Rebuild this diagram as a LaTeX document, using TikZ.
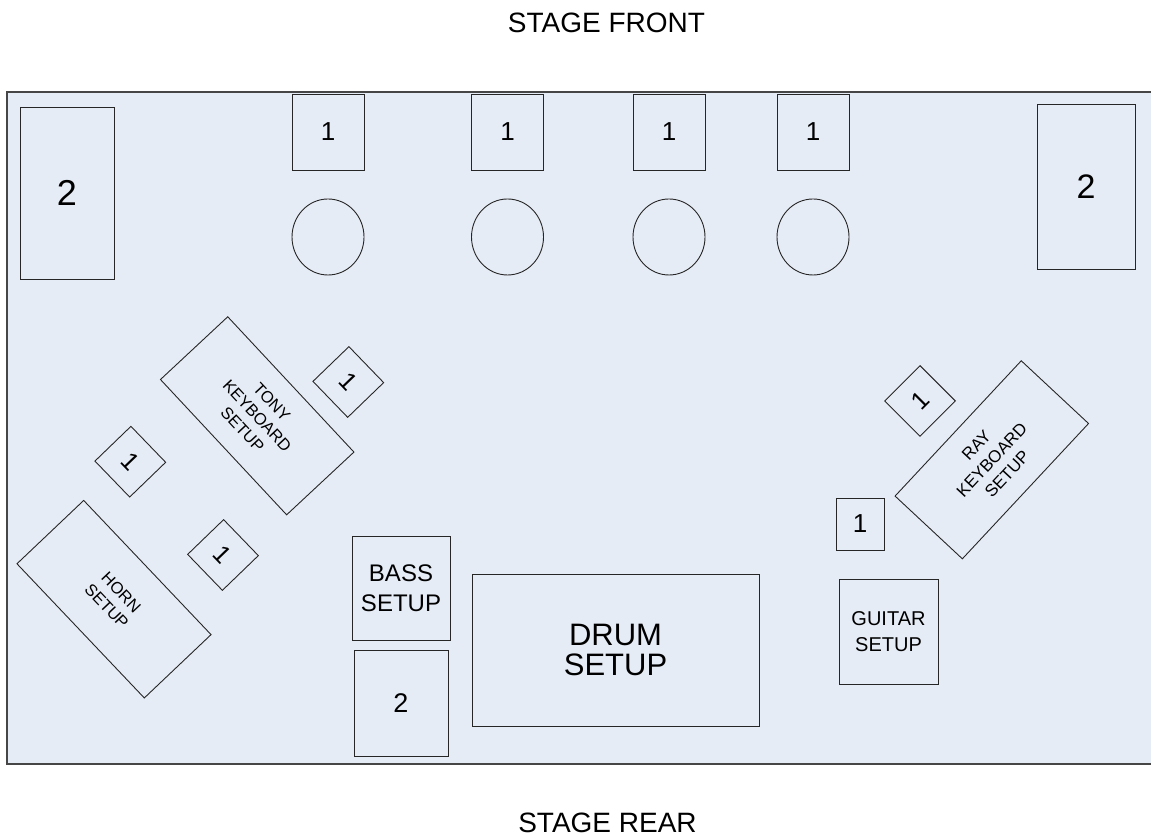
\documentclass[tikz,border=0pt]{standalone}
\usepackage{fontspec}
\setmainfont{Liberation Sans}
\usetikzlibrary{shapes.geometric}

\definecolor{stagefill}{RGB}{230,236,246}
\definecolor{stageline}{RGB}{70,70,70}

\begin{document}
\begin{tikzpicture}[x=1pt, y=1pt,
	gear/.style={draw=black!85, line width=0.9pt, fill=stagefill, inner sep=0pt, outer sep=0pt, align=center},
	wedge/.style={gear, minimum width=72, minimum height=76, font=\fontsize{26}{30}\selectfont},
	tilted/.style={gear, minimum width=50, minimum height=50, font=\fontsize{25}{30}\selectfont},
	keys/.style={gear, minimum width=185, minimum height=92, font=\fontsize{16.5}{20}\selectfont},
	mic/.style={gear, ellipse, minimum width=72, minimum height=76}
]

\useasboundingbox (0,0) rectangle (1151,840);

\fill[stagefill] (7,76) rectangle (1153,748);
\draw[stageline, line width=1.4pt] (1153,748) -- (7,748) -- (7,76) -- (1153,76);

\node[anchor=base, font=\fontsize{28}{34}\selectfont] (front) at (606.5,807.7) {STAGE FRONT};
\node[anchor=base, font=\fontsize{28}{34}\selectfont] (rear) at (607.5,7.3) {STAGE REAR};

% front line
\foreach \x [count=\i] in {328, 507.5, 669, 813}
{
	\node[wedge] (wedge\i) at (\x, 708) {1};
	\node[mic] (mic\i) at (\x, 603) {};
}

\node[gear, minimum width=94, minimum height=172, font=\fontsize{36}{40}\selectfont] (fillL) at (67,647) {2};
\node[gear, minimum width=98, minimum height=165, font=\fontsize{34}{40}\selectfont] (fillR) at (1086,653.5) {2};

% stage left
\node[keys, rotate=-47] (tony) at (257.2,424.2) {TONY\\KEYBOARD\\SETUP};
\node[tilted, rotate=-46] (tonymon) at (348.3,458) {1};
\node[tilted, rotate=-46] (midmon) at (130.3,378.3) {1};
\node[tilted, rotate=-46] (hornmon) at (223,285) {1};
\node[keys, rotate=-46.5] (horn) at (114,240.8) {HORN\\SETUP};

% stage right
\node[keys, rotate=47, font=\fontsize{17}{21}\selectfont] (ray) at (991.8,380.2) {RAY\\KEYBOARD\\SETUP};
\node[tilted, rotate=45] (raymon) at (920,439) {1};
\node[gear, minimum width=48, minimum height=52, font=\fontsize{26}{30}\selectfont] (gtrmon) at (860,316) {1};
\node[gear, minimum width=99, minimum height=105, font=\fontsize{20}{25.7}\selectfont] (guitar) at (888.5,208.5) {GUITAR\\SETUP};

% rear
\node[gear, minimum width=98, minimum height=104, font=\fontsize{24}{29.7}\selectfont] (bass) at (401,252) {BASS\\SETUP};
\node[gear, minimum width=94, minimum height=106, font=\fontsize{27}{30}\selectfont] (fillB) at (401,137) {2};
\node[gear, minimum width=287, minimum height=152, font=\fontsize{31}{29.5}\selectfont] (drums) at (615.5,190) {DRUM\\SETUP};

\end{tikzpicture}
\end{document}
